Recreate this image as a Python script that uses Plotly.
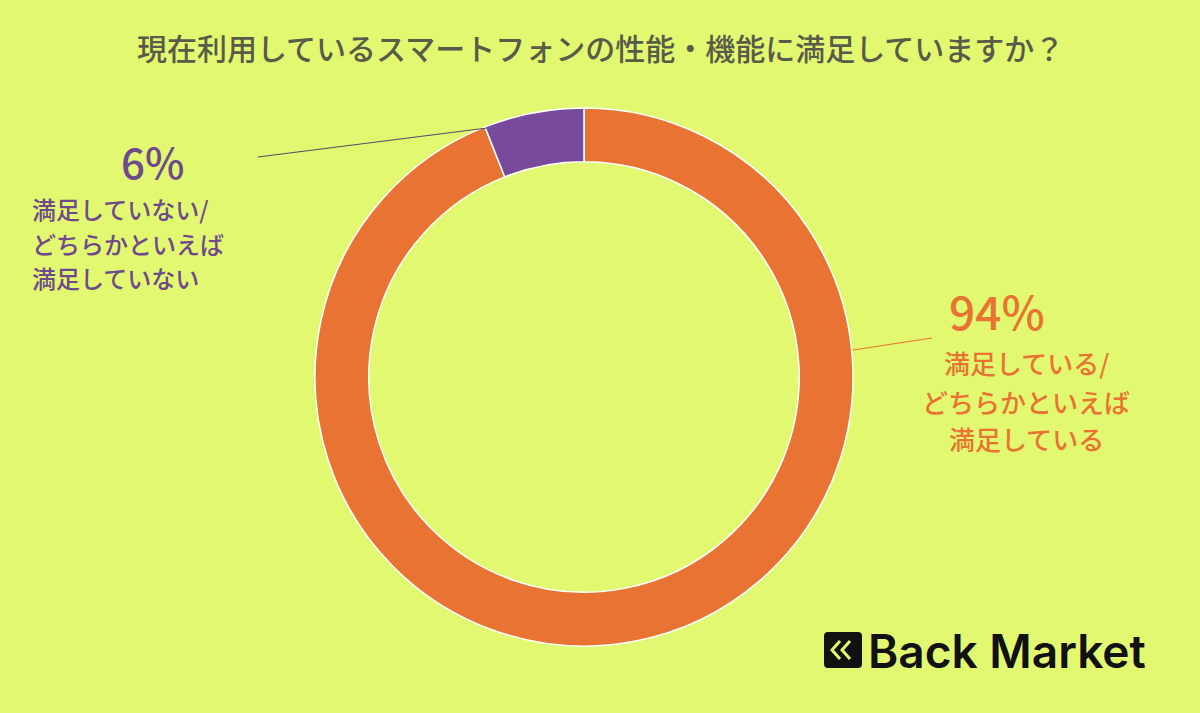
import plotly.graph_objects as go

# ---- data ----
categories = ["満足している/どちらかといえば満足している", "満足していない/どちらかといえば満足していない"]
values = [94, 6]
pct_labels = ["94%", "6%"]
label_lines_pos = ["満足している/", "どちらかといえば", "満足している"]
label_lines_neg = ["満足していない/", "どちらかといえば", "満足していない"]
title_text = "現在利用しているスマートフォンの性能・機能に満足していますか？"
brand = "Back Market"

# ---- style ----
W, H = 1200, 713
BG = "#E2F870"
ORANGE = "#E97332"
PURPLE = "#784A9C"
PURPLE_TXT = "#6E4A8C"
TITLE_C = "#5A5A4A"
FONT = "Noto Sans CJK JP"

def fx(x):
    return x / W

def fy(y):
    return 1 - y / H

cx, cy, R = 584, 377, 269

fig = go.Figure(go.Pie(
    labels=categories,
    values=values,
    sort=False,
    direction="clockwise",
    rotation=0,
    hole=0.80,
    marker=dict(colors=[ORANGE, PURPLE], line=dict(color="#FFFFFF", width=1.5)),
    textinfo="none",
    hoverinfo="skip",
    showlegend=False,
    domain=dict(x=[fx(cx - R), fx(cx + R)], y=[fy(cy + R), fy(cy - R)]),
))

ann = []
ann.append(dict(text=title_text, x=0.5, y=fy(47), xref="paper", yref="paper",
                showarrow=False, xanchor="center", yanchor="middle",
                font=dict(size=30, color=TITLE_C, family=FONT, weight=500)))

# negative label
ann.append(dict(text=pct_labels[1], x=fx(152), y=fy(160), xref="paper", yref="paper",
                showarrow=False, xanchor="center", yanchor="middle",
                font=dict(size=42, color=PURPLE_TXT, family=FONT, weight=500)))
for i, line in enumerate(label_lines_neg):
    ann.append(dict(text=line, x=fx(30), y=fy(208 + i * 35), xref="paper", yref="paper",
                    showarrow=False, xanchor="left", yanchor="middle",
                    font=dict(size=24, color=PURPLE_TXT, family=FONT, weight=500)))

# positive label
ann.append(dict(text=pct_labels[0], x=fx(997), y=fy(310), xref="paper", yref="paper",
                showarrow=False, xanchor="center", yanchor="middle",
                font=dict(size=46, color=ORANGE, family=FONT, weight=500)))
for i, line in enumerate(label_lines_pos):
    ann.append(dict(text=line, x=fx(1026), y=fy(363 + i * 38), xref="paper", yref="paper",
                    showarrow=False, xanchor="center", yanchor="middle",
                    font=dict(size=26, color=ORANGE, family=FONT, weight=500)))

# brand
ann.append(dict(text=brand, x=fx(866), y=fy(651), xref="paper", yref="paper",
                showarrow=False, xanchor="left", yanchor="middle",
                font=dict(size=46, color="#111111", family="Inter", weight=600)))

shapes = [
    dict(type="line", xref="paper", yref="paper", x0=fx(258), y0=fy(157), x1=fx(487), y1=fy(128),
         line=dict(color="#5C4A6A", width=1.2)),
    dict(type="line", xref="paper", yref="paper", x0=fx(853), y0=fy(350), x1=fx(932), y1=fy(338),
         line=dict(color=ORANGE, width=1.2)),
    # logo icon box
    dict(type="path", xref="paper", yref="paper",
         path=(f"M {fx(828)},{fy(632)} L {fx(858)},{fy(632)} Q {fx(862)},{fy(632)} {fx(862)},{fy(636)} "
               f"L {fx(862)},{fy(664)} Q {fx(862)},{fy(668)} {fx(858)},{fy(668)} "
               f"L {fx(828)},{fy(668)} Q {fx(824)},{fy(668)} {fx(824)},{fy(664)} "
               f"L {fx(824)},{fy(636)} Q {fx(824)},{fy(632)} {fx(828)},{fy(632)} Z"),
         fillcolor="#111111", line=dict(width=0)),
    dict(type="path", xref="paper", yref="paper",
         path=f"M {fx(840)},{fy(641)} L {fx(832)},{fy(650)} L {fx(840)},{fy(659)}",
         line=dict(color=BG, width=3)),
    dict(type="path", xref="paper", yref="paper",
         path=f"M {fx(850)},{fy(641)} L {fx(842)},{fy(650)} L {fx(850)},{fy(659)}",
         line=dict(color=BG, width=3)),
]

fig.update_layout(
    width=W, height=H,
    margin=dict(l=0, r=0, t=0, b=0),
    paper_bgcolor=BG, plot_bgcolor=BG,
    font=dict(family=FONT),
    annotations=ann,
    shapes=shapes,
)

fig.write_html("out.html", config={"displayModeBar": False},
               post_script="document.body.style.margin='0';document.body.style.overflow='hidden';")
